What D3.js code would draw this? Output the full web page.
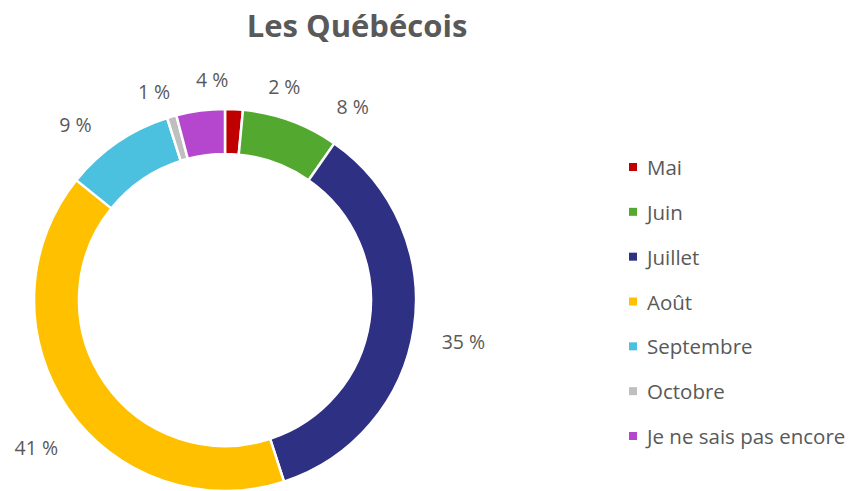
<!DOCTYPE html>
<html>
<head>
<meta charset="utf-8">
<script src="https://cdn.jsdelivr.net/npm/d3@7"></script>
<style>
  body { margin: 0; background: #fff; }
  text { font-family: "Open Sans", "Liberation Sans", sans-serif; fill: #595959; }
</style>
</head>
<body>
<div id="chart-area"></div>
<script>
// data
const months = ["Mai", "Juin", "Juillet", "Août", "Septembre", "Octobre", "Je ne sais pas encore"]
const shares = [1.5, 8.2, 35.3, 40.8, 9.3, 0.8, 4.1]
const labels = ["2 %", "8 %", "35 %", "41 %", "9 %", "1 %", "4 %"]
const colors = ["#C00000", "#53A92F", "#2E3083", "#FFC000", "#4CC0DF", "#BFBFBF", "#B447CE"]

const WIDTH = 854
const HEIGHT = 491
const CX = 225, CY = 300
const R_OUT = 191, R_IN = 146

// Excel pushes the small labels apart; these nudges mimic that
const labelNudge = [[48, 26], [45, 32], [1, 6], [9, 11], [-14, 23], [-4, 22], [18, 17]]

const svg = d3.select("#chart-area").append("svg")
  .attr("width", WIDTH)
  .attr("height", HEIGHT)

// Title
svg.append("text")
  .attr("x", 357)
  .attr("y", 37)
  .attr("text-anchor", "middle")
  .attr("font-size", "31px")
  .attr("font-weight", "bold")
  .text("Les Québécois")

const pie = d3.pie().sort(null).value(d => d.value)
const arc = d3.arc().innerRadius(R_IN).outerRadius(R_OUT)
const labelArc = d3.arc().innerRadius(240).outerRadius(240)

const data = months.map((m, i) => ({ name: m, value: shares[i], label: labels[i], color: colors[i] }))
const arcs = pie(data)

const g = svg.append("g")
  .attr("transform", `translate(${CX}, ${CY})`)

g.selectAll("path")
  .data(arcs)
  .enter().append("path")
    .attr("d", arc)
    .attr("fill", d => d.data.color)
    .attr("stroke", "#fff")
    .attr("stroke-width", 2.5)

g.selectAll(".slice-label")
  .data(arcs)
  .enter().append("text")
    .attr("class", "slice-label")
    .attr("x", (d, i) => labelArc.centroid(d)[0] + labelNudge[i][0])
    .attr("y", (d, i) => labelArc.centroid(d)[1] + labelNudge[i][1])
    .attr("text-anchor", "middle")
    .attr("dominant-baseline", "central")
    .attr("font-size", "19.5px")
    .text(d => d.data.label)

// Legend
const legendY = d3.scalePoint()
  .domain(months)
  .range([167, 436])

const legend = svg.selectAll(".legend")
  .data(data)
  .enter().append("g")
    .attr("class", "legend")
    .attr("transform", d => `translate(629, ${legendY(d.name)})`)

legend.append("rect")
  .attr("x", 0)
  .attr("y", -4)
  .attr("width", 8)
  .attr("height", 8)
  .attr("fill", d => d.color)

legend.append("text")
  .attr("x", 18)
  .attr("y", 0)
  .attr("dominant-baseline", "central")
  .attr("font-size", "20.5px")
  .text(d => d.name)
</script>
</body>
</html>
